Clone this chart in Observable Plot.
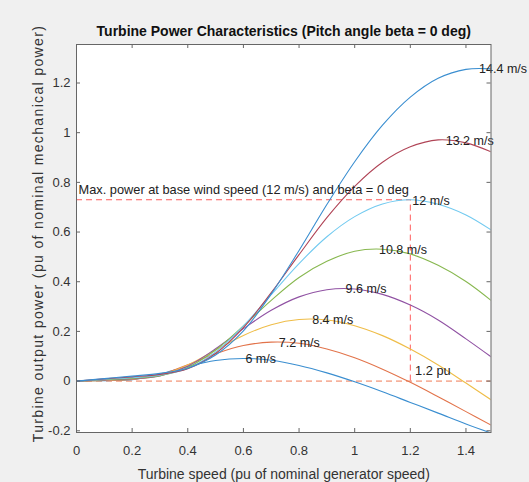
<!DOCTYPE html>
<html><head><meta charset="utf-8">
<script src="https://cdn.jsdelivr.net/npm/d3@7"></script>
<script src="https://cdn.jsdelivr.net/npm/@observablehq/plot@0.6"></script>
<style>
html,body{margin:0;padding:0;background:#f0f0f0;overflow:hidden}
#chart svg{display:block}
</style></head><body><div id="chart"></div>
<script>
// ---- data ----
const speed = [0, 0.1, 0.2, 0.3, 0.4, 0.5, 0.6, 0.7, 0.8, 0.9, 1.0, 1.1, 1.2, 1.3, 1.4, 1.49];
const windSpeeds = ["6 m/s", "7.2 m/s", "8.4 m/s", "9.6 m/s", "10.8 m/s", "12 m/s", "13.2 m/s", "14.4 m/s"];
const p6   = [0, 0.002, 0.006, 0.028, 0.059, 0.083, 0.091, 0.084, 0.063, 0.033, -0.003, -0.043, -0.086, -0.129, -0.173, -0.209];
const p7_2 = [0, 0.003, 0.007, 0.025, 0.066, 0.110, 0.143, 0.157, 0.152, 0.129, 0.094, 0.048, -0.005, -0.063, -0.123, -0.177];
const p8_4 = [0, 0.003, 0.008, 0.023, 0.065, 0.125, 0.184, 0.227, 0.248, 0.246, 0.223, 0.183, 0.129, 0.065, -0.008, -0.075];
const p9_6 = [0, 0.004, 0.009, 0.021, 0.060, 0.130, 0.211, 0.285, 0.339, 0.368, 0.371, 0.349, 0.306, 0.246, 0.170, 0.098];
const p10_8 = [0, 0.006, 0.011, 0.022, 0.055, 0.125, 0.222, 0.325, 0.417, 0.482, 0.523, 0.531, 0.512, 0.466, 0.401, 0.325];
const p12  = [0, 0.007, 0.014, 0.024, 0.051, 0.117, 0.222, 0.348, 0.473, 0.581, 0.662, 0.713, 0.730, 0.712, 0.669, 0.609];
const p13_2 = [0, 0.009, 0.017, 0.027, 0.050, 0.111, 0.215, 0.356, 0.509, 0.658, 0.784, 0.881, 0.943, 0.971, 0.959, 0.923];
const p14_4 = [0, 0.010, 0.020, 0.031, 0.052, 0.105, 0.202, 0.351, 0.526, 0.711, 0.883, 1.030, 1.143, 1.219, 1.255, 1.257];
const peakSpeed = [0.60, 0.72, 0.84, 0.96, 1.08, 1.20, 1.32, 1.44];
const peakPower = [0.091, 0.158, 0.250, 0.374, 0.532, 0.730, 0.971, 1.261];
const basePower = 0.73;
const baseSpeed = 1.2;
const xTickValues = [0, 0.2, 0.4, 0.6, 0.8, 1.0, 1.2, 1.4];
const xTickLabels = ["0", "0.2", "0.4", "0.6", "0.8", "1", "1.2", "1.4"];
const yTickValues = [-0.2, 0, 0.2, 0.4, 0.6, 0.8, 1.0, 1.2];
const yTickLabels = ["-0.2", "0", "0.2", "0.4", "0.6", "0.8", "1", "1.2"];
const notes = [
  {x: 0, y: 0.77, text: "Max. power at base wind speed (12 m/s) and beta = 0 deg"},
  {x: 1.21, y: 0.04, text: "1.2 pu"}
];
const titleText = "Turbine Power Characteristics (Pitch angle beta = 0 deg)";
const xLabelText = "Turbine speed (pu of nominal generator speed)";
const yLabelText = "Turbine output power (pu of nominal mechanical power)";

// ---- build table ----
const series = [p6, p7_2, p8_4, p9_6, p10_8, p12, p13_2, p14_4];
const colors = ["#3a8ed0", "#e2734a", "#efbd48", "#9052a3", "#88b850", "#72caf0", "#b04456", "#3a8ed0"];
const rows = [];
series.forEach((s, k) => s.forEach((v, i) => rows.push({wind: windSpeeds[k], k, speed: speed[i], power: v})));
const peaks = windSpeeds.map((w, k) => ({wind: w, x: peakSpeed[k], y: peakPower[k]}));
const xTicks = xTickValues.map((v, i) => ({v, label: xTickLabels[i]}));
const yTicks = yTickValues.map((v, i) => ({v, label: yTickLabels[i]}));

const W = 529, H = 482, mL = 76, mR = 38.5, mT = 44, mB = 50;
const fw = W - mL - mR, fh = H - mT - mB;
const font = "'Liberation Sans', Arial, Helvetica, sans-serif";
const red = "#ff5c5c";
const axisGray = "#666";

const marks = [
  Plot.frame({fill: "white", stroke: null}),
  Plot.ruleY([0], {stroke: "#f07a55", strokeWidth: 1, strokeDasharray: "6,4"}),
  Plot.ruleY([basePower], {x1: 0, x2: baseSpeed, stroke: red, strokeWidth: 1, strokeDasharray: "6,4"}),
  Plot.ruleX([baseSpeed], {y1: 0, y2: basePower, stroke: red, strokeWidth: 1, strokeDasharray: "6,4"}),
];
windSpeeds.forEach((w, k) => {
  marks.push(Plot.line(rows.filter(r => r.k === k), {x: "speed", y: "power", stroke: colors[k], strokeWidth: 1.1, curve: "catmull-rom", clip: true}));
});
marks.push(
  Plot.text(peaks, {x: "x", y: "y", text: "wind", textAnchor: "start", lineAnchor: "middle", dx: 2, dy: 1, fontSize: 12.5, fill: "#222"}),
  Plot.text(notes, {x: "x", y: "y", text: "text", textAnchor: "start", lineAnchor: "middle", dx: 2, fontSize: 12.8, fill: "#222"}),
  Plot.frame({stroke: axisGray, strokeWidth: 1}),
  Plot.tickX(xTickValues, {x: d => d, insetTop: fh - 4, stroke: axisGray}),
  Plot.tickX(xTickValues, {x: d => d, insetBottom: fh - 4, stroke: axisGray}),
  Plot.tickY(yTickValues, {y: d => d, insetRight: fw - 4, stroke: axisGray}),
  Plot.tickY(yTickValues, {y: d => d, insetLeft: fw - 4, stroke: axisGray}),
  Plot.text(xTicks, {x: "v", text: "label", frameAnchor: "bottom", lineAnchor: "middle", dy: 18.5, fontSize: 13, fill: "#333"}),
  Plot.text(yTicks, {y: "v", text: "label", frameAnchor: "left", textAnchor: "end", lineAnchor: "middle", dx: -6, fontSize: 13, fill: "#333"}),
  Plot.text([xLabelText], {frameAnchor: "bottom", lineAnchor: "middle", dy: 42, fontSize: 14, fill: "#333"}),
  Plot.text([yLabelText], {frameAnchor: "left", textAnchor: "middle", lineAnchor: "middle", dx: -38, dy: -5, rotate: -90, fontSize: 14, fill: "#333"}),
  Plot.text([titleText], {frameAnchor: "top", lineAnchor: "middle", dy: -12.5, fontSize: 14, fontWeight: "bold", fill: "#111"})
);

const chart = Plot.plot({
  width: W, height: H,
  marginLeft: mL, marginRight: mR, marginTop: mT, marginBottom: mB,
  x: {domain: [0, 1.49], axis: null},
  y: {domain: [-0.207, 1.355], axis: null},
  style: {background: "#f0f0f0", fontFamily: font, overflow: "visible"},
  marks
});
document.getElementById("chart").append(chart);
d3.select(chart).selectAll("text")
  .filter(function () { return this.textContent === yLabelText; })
  .attr("letter-spacing", "1.35px")
  .style("letter-spacing", "1.35px");
</script></body></html>
